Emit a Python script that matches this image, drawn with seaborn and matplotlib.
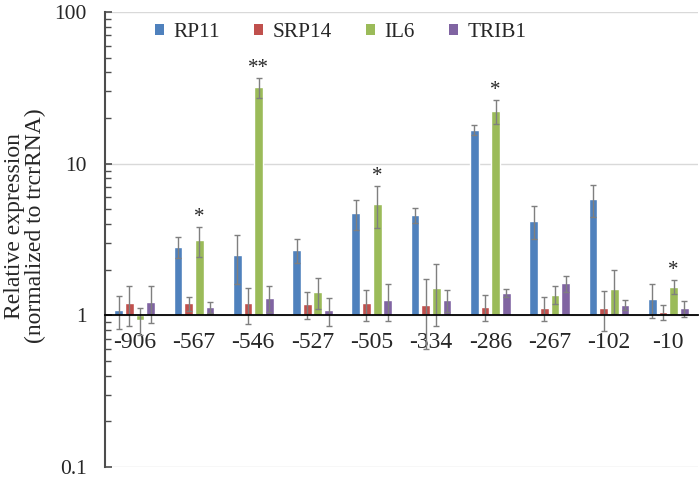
import matplotlib
matplotlib.use("Agg")
import matplotlib.pyplot as plt
from matplotlib.patches import Patch
import numpy as np
import pandas as pd
import seaborn as sns
from matplotlib.ticker import LogLocator, NullFormatter, FuncFormatter

# ---- data ----
positions = ["-906", "-567", "-546", "-527", "-505", "-334", "-286", "-267", "-102", "-10"]
genes = ["RP11", "SRP14", "IL6", "TRIB1"]

rp11 = [1.08, 2.83, 2.50, 2.70, 4.70, 4.59, 16.7, 4.22, 5.84, 1.29]
rp11_sd = [0.27, 0.45, 0.88, 0.50, 1.05, 0.55, 1.30, 1.05, 1.36, 0.33]
srp14 = [1.20, 1.20, 1.20, 1.19, 1.20, 1.17, 1.14, 1.12, 1.12, 1.05]
srp14_sd = [0.35, 0.13, 0.32, 0.24, 0.28, 0.57, 0.22, 0.20, 0.33, 0.12]
il6 = [0.93, 3.13, 31.9, 1.43, 5.42, 1.52, 22.3, 1.37, 1.50, 1.54]
il6_sd = [0.19, 0.72, 4.90, 0.33, 1.66, 0.67, 4.00, 0.19, 0.48, 0.16]
trib1 = [1.23, 1.13, 1.30, 1.08, 1.26, 1.27, 1.41, 1.63, 1.17, 1.11]
trib1_sd = [0.34, 0.10, 0.25, 0.23, 0.34, 0.21, 0.09, 0.20, 0.09, 0.14]
il6_marks = ["", "*", "**", "", "*", "", "*", "", "", "*"]

colors = ["#4F81BD", "#C0504D", "#9BBB59", "#8064A2"]
y_ticks = [0.1, 1, 10, 100]

series = {"RP11": (rp11, rp11_sd), "SRP14": (srp14, srp14_sd),
          "IL6": (il6, il6_sd), "TRIB1": (trib1, trib1_sd)}
rows = []
for g in genes:
    vals, sds = series[g]
    for p, v, s in zip(positions, vals, sds):
        rows.append({"position": p, "gene": g, "value": v, "sd": s})
df = pd.DataFrame(rows)
# bars start at the axis crossing value 1 (Excel style on a log axis)
df["height"] = df["value"] - 1

sns.set_theme(style="ticks")
plt.rcParams["font.family"] = ["Liberation Serif", "STIXGeneral", "DejaVu Serif"]

fig = plt.figure(figsize=(7, 4.8), dpi=100)
ax = fig.add_axes([0.15, 0.027, 0.847, 0.948])

sns.barplot(data=df, x="position", y="height", hue="gene", order=positions,
            hue_order=genes, palette=colors, saturation=1, bottom=1,
            errorbar=None, width=0.72, gap=0.18, ax=ax, zorder=2, legend=False)

ax.set_yscale("log")
ax.set_ylim(0.1, 100)
ax.set_xlim(-0.5, len(positions) - 0.5)

# error bars and significance marks at the bar centres seaborn laid out
for cont, g in zip(ax.containers, genes):
    vals, sds = series[g]
    xs = [b.get_x() + b.get_width() / 2 for b in cont]
    ax.errorbar(xs, vals, yerr=sds, fmt="none", ecolor="#7f7f7f",
                elinewidth=1, capsize=2.5, capthick=1, zorder=3)
    if g == "IL6":
        for x, v, s, m in zip(xs, vals, sds, il6_marks):
            if m:
                ax.annotate(m, (x, v + s), xytext=(0, 0), textcoords="offset points",
                            ha="center", va="bottom", fontsize=15)

# axes styling
for side in ["top", "right"]:
    ax.spines[side].set_visible(False)
ax.spines["left"].set_color("#4d4d4d")
ax.spines["left"].set_linewidth(1.5)
ax.spines["bottom"].set_position(("data", 1))
ax.spines["bottom"].set_color("black")
ax.spines["bottom"].set_linewidth(1.3)
ax.spines["bottom"].set_zorder(4)

ax.set_yticks(y_ticks)
ax.yaxis.set_major_formatter(FuncFormatter(lambda v, _: f"{v:g}"))
ax.yaxis.set_minor_locator(LogLocator(base=10, subs=np.arange(2, 10)))
ax.yaxis.set_minor_formatter(NullFormatter())
ax.tick_params(axis="y", which="major", direction="in", length=5, width=1.2,
               color="#4d4d4d", labelsize=15.5, pad=13)
ax.tick_params(axis="y", which="minor", direction="in", length=4.5, width=1.0,
               color="#4d4d4d")
ax.tick_params(axis="x", length=0, labelsize=17, pad=12)
ax.yaxis.grid(True, which="major", color="#d9d9d9", linewidth=1)
ax.set_axisbelow(True)

ax.set_xlabel("")
ax.set_ylabel("Relative expression\n(normalized to trcrRNA)", fontsize=17,
              linespacing=1.0)
ax.yaxis.set_label_coords(-0.1, 0.53)

handles = [Patch(facecolor=c, edgecolor="none") for c in colors]
ax.legend(handles, genes, ncol=4, loc="center", bbox_to_anchor=(0.398, 0.955),
          frameon=False, fontsize=15.3, handlelength=0.42, handleheight=0.42,
          handletextpad=0.45, columnspacing=1.6)

fig.savefig("out.png", dpi=100)
